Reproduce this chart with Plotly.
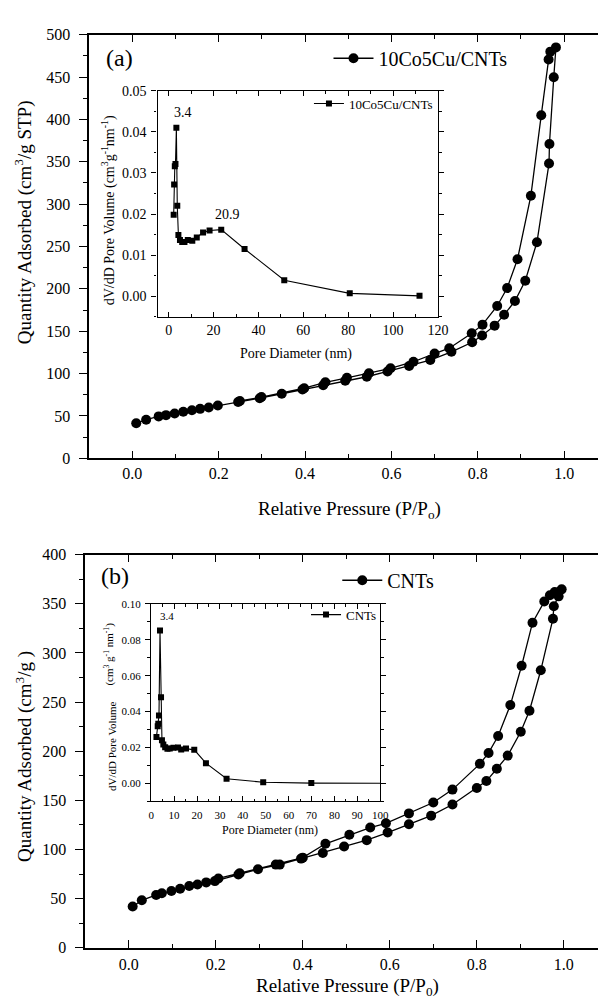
import plotly.graph_objects as go

# ---------------- (a) 10Co5Cu/CNTs isotherm ----------------
p_ads_a = [0.009, 0.032, 0.061, 0.078, 0.098, 0.118, 0.138, 0.157, 0.177, 0.198,
           0.245, 0.295, 0.346, 0.394, 0.442, 0.493, 0.543, 0.591, 0.641, 0.690,
           0.739, 0.787, 0.810, 0.839, 0.861, 0.886, 0.910, 0.937, 0.965, 0.966,
           0.976, 0.981]
q_ads_a = [41.4, 45.6, 49.5, 51.0, 53.0, 55.0, 56.8, 58.4, 60.0, 62.3,
           66.5, 71.0, 76.2, 81.2, 86.2, 91.6, 96.3, 102.5, 109.0, 116.0,
           125.7, 137.0, 145.0, 156.6, 169.4, 185.6, 209.6, 255.0, 348.0, 371.0,
           449.7, 485.0]
p_des_a = [0.968, 0.964, 0.947, 0.923, 0.892, 0.868, 0.845, 0.811, 0.786, 0.734,
           0.700, 0.651, 0.598, 0.548, 0.497, 0.447, 0.398, 0.299, 0.249]
q_des_a = [480.0, 470.6, 405.0, 310.0, 235.0, 201.0, 179.8, 157.8, 147.7, 130.0,
           123.7, 114.0, 106.3, 100.5, 95.0, 89.7, 82.8, 72.3, 67.7]

# inset (a): pore size distribution
d_a = [2.2, 2.4, 2.7, 3.0, 3.4, 3.8, 4.3, 5.0, 6.0, 7.0,
       8.5, 10.5, 12.5, 15.3, 18.2, 23.4, 33.8, 51.5, 80.7, 111.8]
v_a = [0.0198, 0.0272, 0.0316, 0.0322, 0.0410, 0.0220, 0.0149, 0.0137, 0.0132, 0.0132,
       0.0137, 0.0135, 0.0143, 0.0155, 0.0160, 0.0162, 0.0115, 0.0039, 0.0007, 0.0001]

# ---------------- (b) CNTs isotherm ----------------
p_ads_b = [0.009, 0.030, 0.063, 0.076, 0.098, 0.118, 0.139, 0.158, 0.178, 0.198,
           0.252, 0.297, 0.347, 0.396, 0.446, 0.495, 0.547, 0.595, 0.644, 0.695,
           0.744, 0.800, 0.822, 0.846, 0.871, 0.901, 0.921, 0.947, 0.975, 0.977,
           0.988, 0.995]
q_ads_b = [42.0, 48.4, 53.8, 55.5, 57.8, 60.2, 62.9, 64.5, 66.6, 67.9,
           74.6, 80.0, 84.7, 90.8, 96.5, 103.2, 109.6, 117.3, 125.7, 134.5,
           145.9, 162.7, 169.7, 182.2, 195.6, 219.8, 241.3, 282.4, 334.8, 347.6,
           357.6, 364.7]
p_des_b = [0.979, 0.968, 0.955, 0.928, 0.903, 0.877, 0.849, 0.827, 0.807, 0.744,
           0.700, 0.644, 0.591, 0.555, 0.507, 0.452, 0.400, 0.338, 0.255, 0.206]
q_des_b = [362.0, 358.7, 352.3, 330.8, 287.0, 247.0, 215.5, 198.3, 187.2, 161.0,
           147.9, 136.8, 126.7, 122.4, 115.0, 105.9, 91.8, 84.7, 76.0, 70.6]

# inset (b)
d_b = [2.3, 2.85, 3.1, 3.4, 3.85, 4.3, 4.7, 5.3, 6.1, 7.1,
       8.1, 9.7, 11.7, 13.1, 15.2, 18.8, 23.9, 32.9, 48.9, 69.9, 112.0]
v_b = [0.0259, 0.0319, 0.0333, 0.0378, 0.0852, 0.0480, 0.0241, 0.0217, 0.0202, 0.0193,
       0.0194, 0.0198, 0.0200, 0.0189, 0.0194, 0.0187, 0.0113, 0.0026, 0.0007, 0.0002, 0.0001]

FONT = "Liberation Serif, Times New Roman, serif"
W, H = 606, 999

def px(x):
    return x / W

def py(y):
    return 1 - y / H

fig = go.Figure()
line_style = dict(color="black", width=1.3)

fig.add_trace(go.Scatter(x=p_ads_a + p_des_a, y=q_ads_a + q_des_a, mode="lines+markers",
                         name="10Co5Cu/CNTs", line=line_style, showlegend=True,
                         marker=dict(symbol="circle", size=10, color="black"),
                         xaxis="x", yaxis="y", legend="legend"))
fig.add_trace(go.Scatter(x=d_a, y=v_a, mode="lines+markers", name="10Co5Cu/CNTs",
                         line=dict(color="black", width=1.1), showlegend=True,
                         marker=dict(symbol="square", size=6, color="black"),
                         xaxis="x2", yaxis="y2", legend="legend2"))
fig.add_trace(go.Scatter(x=p_ads_b + p_des_b, y=q_ads_b + q_des_b, mode="lines+markers",
                         name="CNTs", line=line_style, showlegend=True,
                         marker=dict(symbol="circle", size=10, color="black"),
                         xaxis="x3", yaxis="y3", legend="legend3"))
fig.add_trace(go.Scatter(x=d_b, y=v_b, mode="lines+markers", name="CNTs",
                         line=dict(color="black", width=1.1), showlegend=True,
                         marker=dict(symbol="square", size=6, color="black"),
                         xaxis="x4", yaxis="y4", legend="legend4"))

def ax(domain, rng, dtick, mdtick, ticks, size, ticklen=8, fmt=None, anchor=None, lw=1.5,
       standoff=0):
    d = dict(domain=domain, range=rng, dtick=dtick, tick0=0, ticks=ticks, ticklen=ticklen,
             tickwidth=1.2, tickcolor="black", showline=True, linecolor="black", linewidth=lw,
             mirror="ticks", showgrid=False, zeroline=False, ticklabelstandoff=standoff,
             tickfont=dict(family=FONT, size=size, color="black"),
             minor=dict(dtick=mdtick, ticks=ticks, ticklen=ticklen * 0.55, tickwidth=1.2,
                        tickcolor="black", showgrid=False))
    if fmt:
        d["tickformat"] = fmt
    if anchor:
        d["anchor"] = anchor
    return d

layout = dict(
    width=W, height=H, margin=dict(l=0, r=0, t=0, b=0),
    paper_bgcolor="white", plot_bgcolor="white", showlegend=True,
    font=dict(family=FONT, color="black"),
    xaxis=ax([px(80), 1.0], [-0.1, 1.09], 0.2, 0.1, "inside", 16, fmt=".1f", anchor="y",
             standoff=0),
    yaxis=ax([py(450), py(19)], [0, 500], 50, 25, "outside", 16, anchor="x", standoff=6),
    xaxis2=ax([px(150), px(437)], [-5, 120], 20, 10, "inside", 14, ticklen=5, anchor="y2",
              lw=1.3, standoff=0),
    yaxis2=ax([py(306), py(76)], [-0.005, 0.05], 0.01, 0.005, "outside", 14, ticklen=5,
              fmt=".2f", anchor="x2", lw=1.3, standoff=2),
    xaxis3=ax([px(76), 1.0], [-0.1, 1.09], 0.2, 0.1, "inside", 16, fmt=".1f", anchor="y3",
              standoff=1),
    yaxis3=ax([py(948), py(548)], [0, 400], 50, 25, "outside", 16, anchor="x3", standoff=6),
    xaxis4=ax([px(143.5), px(378)], [0, 100], 10, 5, "inside", 11, ticklen=5, anchor="y4",
              lw=1.3, standoff=3),
    yaxis4=ax([py(799), py(598)], [-0.01, 0.10], 0.02, 0.01, "outside", 11, ticklen=5,
              fmt=".2f", anchor="x4", lw=1.3, standoff=2),
    legend=dict(x=px(325), y=py(43), xanchor="left", yanchor="middle", itemwidth=40,
                font=dict(family=FONT, size=20, color="black"), bgcolor="rgba(0,0,0,0)"),
    legend2=dict(x=px(305), y=py(89), xanchor="left", yanchor="middle",
                 font=dict(family=FONT, size=13, color="black"), bgcolor="rgba(0,0,0,0)"),
    legend3=dict(x=px(334), y=py(574), xanchor="left", yanchor="middle", itemwidth=40,
                 font=dict(family=FONT, size=20, color="black"), bgcolor="rgba(0,0,0,0)"),
    legend4=dict(x=px(302), y=py(609), xanchor="left", yanchor="middle",
                 font=dict(family=FONT, size=13, color="black"), bgcolor="rgba(0,0,0,0)"),
)
fig.update_layout(**layout)

def ann(text, x, y, size, angle=0, xref="paper", yref="paper"):
    fig.add_annotation(text=text, x=x, y=y, xref=xref, yref=yref, showarrow=False,
                       textangle=angle, xanchor="center", yanchor="middle",
                       font=dict(family=FONT, size=size, color="black"))

# panel labels
ann("(a)", px(111), py(43), 24)
ann("(b)", px(106), py(570), 24)
# main axis titles
ann("Quantity Adsorbed (cm<sup>3</sup>/g STP)", px(13), py(210), 19, -90)
ann("Relative Pressure (P/P<sub>o</sub>)", px(346), py(503), 19)
ann("Quantity Adsorbed (cm<sup>3</sup>/g )", px(13), py(753), 19, -90)
ann("Relative Pressure (P/P<sub>0</sub>)", px(344), py(988), 19)
# inset (a) titles and peak labels
ann("dV/dD Pore Volume (cm<sup>3</sup>g<sup>-1</sup>nm<sup>-1</sup>)", px(100), py(198), 14, -90)
ann("Pore Diameter (nm)", px(292), py(344), 14)
ann("3.4", 6.2, 0.0447, 14, xref="x2", yref="y2")
ann("20.9", 26.3, 0.0200, 14, xref="x2", yref="y2")
# inset (b) titles and peak label
ann("dV/dD Pore Volume", px(104), py(743), 11, -90)
ann("(cm<sup>3</sup> g<sup>-1</sup> nm<sup>-1</sup>)", px(101), py(649), 11, -90)
ann("Pore Diameter (nm)", px(265), py(828), 12)
ann("3.4", 7.0, 0.093, 11, xref="x4", yref="y4")

fig.write_html("out.html")
